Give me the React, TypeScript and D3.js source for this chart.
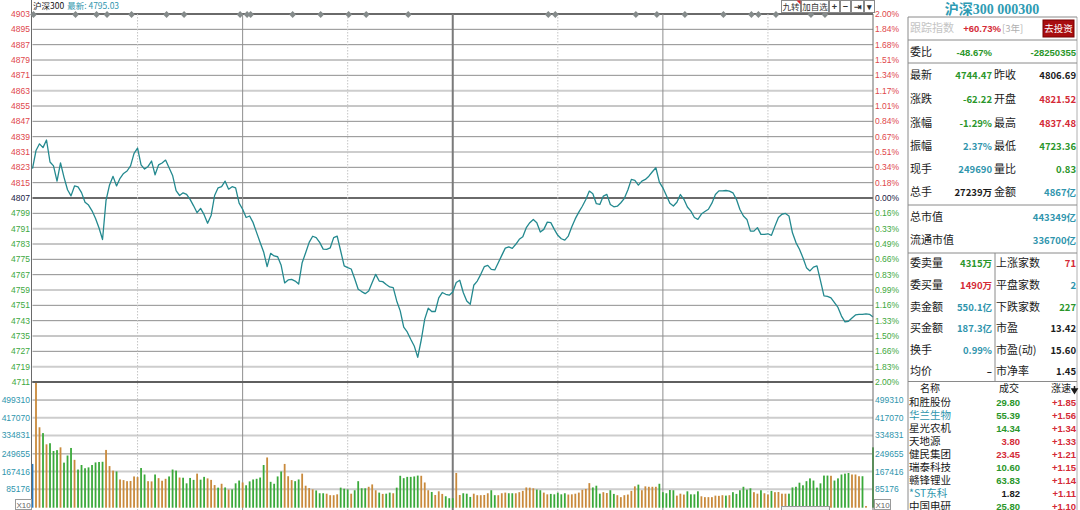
import React from 'react';
import * as d3 from 'd3';

// ---------------- DATA ----------------
const prevClose = 4806.69;

const priceTickLabels = ['4903','4895','4887','4879','4871','4863','4855','4847','4839','4831','4823','4815','4807','4799','4791','4783','4775','4767','4759','4751','4743','4735','4727','4719','4711'];
const pctTickLabels = ['2.00%','1.84%','1.68%','1.51%','1.34%','1.17%','1.01%','0.84%','0.67%','0.51%','0.34%','0.18%','0.00%','0.16%','0.33%','0.49%','0.66%','0.83%','0.99%','1.16%','1.33%','1.50%','1.66%','1.83%','2.00%'];
const volTicks = [85176, 167416, 249655, 334831, 417070, 499310];

const prices = [
  4822.0, 4831.5, 4835.0, 4833.0, 4837.0, 4825.5, 4823.5, 4815.5, 4825.0, 4817.5,
  4811.0, 4807.8, 4813.0, 4812.5, 4809.5, 4804.5, 4803.0, 4800.0, 4796.0, 4791.0,
  4785.0, 4805.5, 4813.5, 4818.0, 4813.0, 4817.0, 4819.5, 4820.8, 4823.5, 4830.0,
  4832.8, 4824.0, 4821.8, 4823.2, 4826.0, 4818.8, 4824.0, 4825.0, 4826.5, 4822.5,
  4818.5, 4810.5, 4808.0, 4809.4, 4808.6, 4806.0, 4802.6, 4799.0, 4801.3, 4798.0,
  4793.5, 4797.5, 4808.0, 4812.0, 4812.6, 4815.5, 4811.3, 4812.6, 4812.0, 4804.0,
  4800.8, 4796.5, 4797.3, 4793.8, 4788.6, 4783.4, 4778.5, 4770.8, 4777.8, 4776.4,
  4776.0, 4771.5, 4762.3, 4763.9, 4764.2, 4763.3, 4761.7, 4772.9, 4778.1, 4783.5,
  4786.7, 4786.0, 4783.5, 4780.0, 4779.9, 4780.6, 4786.0, 4786.8, 4779.0, 4771.2,
  4770.3, 4769.6, 4764.5, 4759.0, 4757.8, 4756.7, 4758.1, 4762.5, 4766.8, 4763.3,
  4763.0, 4761.5, 4760.2, 4759.9, 4752.9, 4747.7, 4739.2, 4736.7, 4732.9, 4729.4,
  4723.4, 4732.5, 4743.4, 4749.1, 4747.4, 4747.4, 4754.5, 4757.3, 4756.4, 4755.9,
  4757.6, 4762.5, 4763.7, 4757.3, 4752.9, 4751.2, 4761.1, 4763.3, 4766.8, 4770.8,
  4771.5, 4769.4, 4769.1, 4772.9, 4776.7, 4780.5, 4781.1, 4780.4, 4782.5, 4785.1,
  4786.4, 4791.2, 4793.8, 4795.5, 4793.8, 4788.9, 4790.3, 4794.1, 4793.8, 4790.3,
  4787.2, 4785.4, 4784.7, 4786.8, 4791.7, 4795.9, 4799.3, 4802.4, 4805.9, 4810.3,
  4808.9, 4803.7, 4803.3, 4807.7, 4808.6, 4803.3, 4802.1, 4802.4, 4804.2, 4806.5,
  4810.9, 4816.4, 4815.9, 4813.4, 4815.5, 4816.4, 4818.1, 4820.4, 4822.5, 4815.0,
  4812.0, 4808.0, 4804.0, 4802.5, 4804.5, 4808.5, 4806.0, 4802.0, 4799.8, 4796.5,
  4795.5, 4798.3, 4799.6, 4800.8, 4804.0, 4808.5, 4810.4, 4810.4, 4810.6, 4810.3,
  4809.4, 4806.0, 4800.7, 4797.3, 4795.5, 4789.4, 4789.4, 4791.2, 4787.7, 4787.7,
  4788.0, 4787.2, 4792.0, 4796.5, 4798.2, 4798.6, 4797.3, 4788.5, 4783.4, 4779.9,
  4775.5, 4770.3, 4768.6, 4770.6, 4771.2, 4763.5, 4755.5, 4755.3, 4754.5, 4752.0,
  4749.5, 4745.0, 4742.0, 4742.3, 4744.0, 4745.6, 4745.9, 4745.9, 4746.2, 4745.9, 4744.5,
];

const volumes = [
  203000, 580000, 373000, 346000, 294000, 299000, 263000, 267000, 280000, 209000,
  242000, 277000, 222000, 177000, 198000, 183000, 187000, 198000, 210000, 212000,
  213000, 268000, 193000, 172000, 168000, 131000, 128000, 123000, 124000, 145000,
  142000, 184000, 154000, 123000, 122000, 154000, 137000, 125000, 134000, 145000,
  177000, 172000, 140000, 139000, 113000, 138000, 129000, 158000, 130000, 143000,
  136000, 129000, 105000, 93000, 111000, 94000, 84000, 85000, 113000, 126000,
  117000, 104000, 122000, 131000, 134000, 140000, 198000, 233000, 120000, 111000,
  145000, 168000, 203000, 146000, 128000, 123000, 131000, 158000, 102000, 91000,
  85000, 80000, 67000, 67000, 65000, 58000, 58000, 62000, 93000, 88000,
  85000, 65000, 81000, 123000, 90000, 90000, 97000, 108000, 81000, 70000,
  64000, 65000, 70000, 67000, 93000, 148000, 137000, 143000, 143000, 145000,
  149000, 148000, 117000, 81000, 73000, 59000, 76000, 64000, 53000, 44000,
  44000, 161000, 59000, 67000, 65000, 50000, 65000, 58000, 58000, 59000,
  67000, 81000, 58000, 58000, 67000, 70000, 67000, 67000, 67000, 72000,
  78000, 94000, 93000, 90000, 84000, 81000, 70000, 62000, 64000, 62000,
  70000, 62000, 67000, 61000, 62000, 65000, 70000, 83000, 87000, 114000,
  94000, 102000, 65000, 72000, 68000, 81000, 64000, 58000, 49000, 58000,
  61000, 78000, 99000, 107000, 81000, 99000, 97000, 97000, 97000, 111000,
  72000, 67000, 82000, 81000, 56000, 65000, 61000, 76000, 62000, 62000,
  76000, 53000, 49000, 49000, 49000, 56000, 55000, 58000, 56000, 58000,
  72000, 64000, 81000, 97000, 84000, 90000, 72000, 65000, 81000, 67000,
  61000, 78000, 72000, 73000, 65000, 65000, 65000, 94000, 97000, 116000,
  104000, 123000, 136000, 126000, 93000, 113000, 149000, 149000, 148000, 126000,
  136000, 154000, 158000, 161000, 154000, 154000, 146000, 146000, 8000, 0, 280000,
];

// b = opening bar, u = up minute, d = down minute
const volumeDir =
  'buududddud' + 'dduddddddd' + 'duuuduuuuu' + 'udduuduuud' + 'dduddddudd' +
  'uuudududdd' + 'uddddddudd' + 'dduuudduuu' + 'uddduuuudd' + 'dudddduuud' +
  'uddudddddd' + 'duuuduuudd' + 'duuddduuuu' + 'udduuudduu' + 'uuuudduudd' +
  'ddduuuuuuu' + 'ddduudduuu' + 'uuuduuuuud' + 'dddduuuddd' + 'duuuuuuudu' +
  'dddddduudu' + 'uduuuudddd' + 'ddddddddud' + 'dddduuuduud';

const markerMinutes = [0, 12, 18, 21, 28, 38, 43, 59, 61, 62, 74, 82, 90, 95, 107, 147, 149, 172, 178, 186, 197, 205, 207, 212, 222, 226];

const toolbarItems = ['九转', '加自选', '+', '−', '⇥', '▾'];

const quoteLabelsL = ['最新', '涨跌', '涨幅', '振幅', '现手', '总手'];
const quoteValuesL = ['4744.47', '-62.22', '-1.29%', '2.37%', '249690', '27239万'];
const quoteLabelsR = ['昨收', '开盘', '最高', '最低', '量比', '金额'];
const quoteValuesR = ['4806.69', '4821.52', '4837.48', '4723.36', '0.83', '4867亿'];

const capLabels = ['总市值', '流通市值'];
const capValues = ['443349亿', '336700亿'];

const orderLabelsL = ['委卖量', '委买量', '卖金额', '买金额', '换手', '均价'];
const orderValuesL = ['4315万', '1490万', '550.1亿', '187.3亿', '0.99%', '–'];
const orderLabelsR = ['上涨家数', '平盘家数', '下跌家数', '市盈', '市盈(动)', '市净率'];
const orderValuesR = ['71', '2', '227', '13.42', '15.60', '1.45'];

const listNames = ['和胜股份', '华兰生物', '星光农机', '天地源', '健民集团', '瑞泰科技', '赣锋锂业', '*ST东科', '中国电研'];
const listPrices = ['29.80', '55.39', '14.34', '3.80', '23.45', '10.60', '63.83', '1.82', '25.80'];
const listSpeeds = ['+1.85', '+1.56', '+1.34', '+1.33', '+1.21', '+1.15', '+1.14', '+1.11', '+1.10'];

// ---------------- STYLE ----------------
const RED = '#e0474c';
const GREEN = '#3ea83e';
const TEAL = '#2f95ad';
const DARK = '#1a1a1a';
const VRED = '#d42a36';
const VGREEN = '#2a962a';
const NUM = "'Liberation Sans', Arial, sans-serif";
const CJK = "'Noto Sans CJK SC', 'Liberation Sans', sans-serif";

const qColL = [VGREEN, VGREEN, VGREEN, TEAL, TEAL, DARK];
const qColR = [DARK, VRED, VRED, VGREEN, VGREEN, TEAL];
const oColL = [VGREEN, VRED, TEAL, TEAL, TEAL, DARK];
const oColR = [VRED, TEAL, VGREEN, DARK, DARK, DARK];
const nameCol = [DARK, TEAL, DARK, DARK, DARK, DARK, DARK, TEAL, DARK];
const priceCol = [VGREEN, VGREEN, VGREEN, VRED, VRED, VGREEN, VGREEN, DARK, VGREEN];
const lightGrid = new Set([5, 9, 14, 18, 23]);
const lightVol = new Set([85176, 167416, 334831, 417070]);

export default function App() {
  const plotL = 32.5;
  const plotR = 873;
  const top = 14;
  const mid = 382;
  const volBot = 507.7;

  const x = d3.scaleLinear().domain([0, 240]).range([plotL, plotR]);
  const y = d3.scaleLinear().domain([prevClose * 0.98, prevClose * 1.02]).range([mid, top]);
  const yv = d3.scaleLinear().domain([0, 583000]).range([volBot, mid]);
  const gridY = d3.scaleLinear().domain([0, priceTickLabels.length - 1]).range([top, mid]);
  const line = d3.line<number>().x((_, i) => x(i)).y((d) => y(d)).curve(d3.curveLinear);

  const barColor = (i: number) => {
    const c = volumeDir[i];
    if (c === 'b') return '#2b7cc0';
    if (c === 'u') return '#c98a3c';
    if (c === 'd') return '#3aa93a';
    return i > 0 && prices[i] >= prices[i - 1] ? '#c98a3c' : '#3aa93a';
  };

  const vLines = [30, 60, 90, 120, 150, 180, 210];

  const px = 908; // panel left
  const pr = 1077; // panel right
  const rowsTop = [75, 99, 122.5, 146, 169, 192];
  const orderRows = [262.5, 284.5, 306.5, 328, 350, 371];

  return (
    <svg
      width={1080}
      height={510}
      style={{ position: 'fixed', left: 0, top: 0, background: '#fff' }}
    >
      <rect x={0} y={0} width={1080} height={510} fill="#fff" />

      {/* price gridlines */}
      {priceTickLabels.map((_, k) => {
        const gy = gridY(k);
        const isZero = k === 12;
        const isEdge = k === 0 || k === priceTickLabels.length - 1;
        return (
          <line
            key={'g' + k}
            x1={plotL}
            x2={plotR}
            y1={gy}
            y2={gy}
            stroke={isZero || isEdge ? '#6a6a6a' : lightGrid.has(k) ? '#cdcdcd' : '#8e8e8e'}
            strokeWidth={isZero || isEdge || lightGrid.has(k) ? 2 : 1}
          />
        );
      })}
      {/* volume gridlines */}
      {volTicks.map((v) => (
        <line
          key={'vg' + v}
          x1={plotL}
          x2={plotR}
          y1={yv(v)}
          y2={yv(v)}
          stroke={lightVol.has(v) ? '#cdcdcd' : '#8e8e8e'}
          strokeWidth={lightVol.has(v) ? 2 : 1}
        />
      ))}
      {/* vertical gridlines */}
      {vLines.map((m) => {
        const solid = m === 60 || m === 180;
        const center = m === 120;
        return (
          <line
            key={'v' + m}
            x1={x(m)}
            x2={x(m)}
            y1={top}
            y2={510}
            stroke={center ? '#7a7a7a' : solid ? '#8e8e8e' : '#c4c4c4'}
            strokeWidth={center ? 2 : 1}
            strokeDasharray={center || solid ? undefined : '1.5,1.5'}
          />
        );
      })}

      {/* volume bars */}
      {volumes.map((v, i) => {
        const by = yv(v);
        return (
          <rect
            key={'b' + i}
            x={x(i) - 0.9}
            y={by}
            width={1.8}
            height={Math.max(0, volBot - by)}
            fill={barColor(i)}
          />
        );
      })}

      {/* price line */}
      <path d={line(prices) || ''} fill="none" stroke="#23898f" strokeWidth={1.3} strokeLinejoin="round" />

      {/* borders */}
      <line x1={31.5} x2={31.5} y1={0} y2={510} stroke="#6a6a6a" strokeWidth={1} />
      <line x1={plotR} x2={plotR} y1={top} y2={510} stroke="#6a6a6a" strokeWidth={1} />
      <line x1={plotL} x2={plotR} y1={mid} y2={mid} stroke="#5f5f5f" strokeWidth={2} />

      {/* event markers */}
      {markerMinutes.map((m, k) => {
        const cx = x(m) + 1;
        const cy = 14.5;
        return (
          <path
            key={'mk' + k}
            d={`M${cx},${cy - 3.6}L${cx + 3.4},${cy}L${cx},${cy + 3.6}L${cx - 3.4},${cy}Z`}
            fill="#858b8b"
          />
        );
      })}

      {/* left price axis labels */}
      {priceTickLabels.map((t, k) => (
        <text
          key={'lt' + k}
          x={30}
          y={gridY(k)}
          dy="0.35em"
          textAnchor="end"
          fontFamily={NUM}
          fontSize={8.5}
          fill={k < 12 ? RED : k === 12 ? '#222244' : GREEN}
        >
          {t}
        </text>
      ))}
      {/* right pct axis labels */}
      {pctTickLabels.map((t, k) => (
        <text
          key={'rt' + k}
          x={875}
          y={gridY(k)}
          dy="0.35em"
          textAnchor="start"
          fontFamily={NUM}
          fontSize={8.5}
          fill={k < 12 ? RED : k === 12 ? '#222244' : GREEN}
        >
          {t}
        </text>
      ))}
      {/* volume axis labels */}
      {volTicks.map((v) => (
        <g key={'vl' + v}>
          <text x={30} y={yv(v)} dy="0.35em" textAnchor="end" fontFamily={NUM} fontSize={8.5} fill={TEAL}>
            {v}
          </text>
          <text x={875} y={yv(v)} dy="0.35em" textAnchor="start" fontFamily={NUM} fontSize={8.5} fill={TEAL}>
            {v}
          </text>
        </g>
      ))}
      {/* X10 boxes */}
      {[15, 874].map((bx) => (
        <g key={'x10' + bx}>
          <rect x={bx + 0.5} y={499.5} width={16} height={10} fill="#fff" stroke="#9a9a9a" />
          <text x={bx + 8.5} y={507.5} textAnchor="middle" fontFamily={NUM} fontSize={8} fill="#666">
            X10
          </text>
        </g>
      ))}
      <rect x={781.5} y={506.5} width={48} height={5} fill="#f2f2f2" stroke="#9a9a9a" />

      {/* header */}
      <text x={33} y={9} fontFamily={CJK} fontSize={8.5} fill="#111">
        沪深300
        <tspan fill={TEAL} dx={3}>最新: 4795.03</tspan>
      </text>

      {/* toolbar */}
      {(() => {
        const widths = [19, 27, 10, 10, 12, 10];
        let cx = 781.5;
        return toolbarItems.map((t, k) => {
          const bx = cx;
          cx += widths[k] + 1;
          return (
            <g key={'tb' + k}>
              <rect x={bx} y={0.5} width={widths[k]} height={12} fill="#fff" stroke="#8a8a8a" />
              <text
                x={bx + widths[k] / 2}
                y={10}
                textAnchor="middle"
                fontFamily={CJK}
                fontSize={k < 2 ? 8.5 : 9}
                fontWeight={k >= 2 ? 'bold' : 'normal'}
                fill="#333"
              >
                {t}
              </text>
              {k === 0 && <path d={`M${bx + 15},0.5L${bx + 19},0.5L${bx + 19},4.5Z`} fill="#e02020" />}
            </g>
          );
        });
      })()}

      {/* ---------- right panel ---------- */}
      <text x={992} y={14} textAnchor="middle" fontFamily="'Liberation Serif', 'Noto Sans CJK SC', serif" fontWeight="bold" fontSize={14} fill="#2e9bb3">
        沪深300 000300
      </text>
      <line x1={px} x2={px} y1={17} y2={510} stroke="#8a8a8a" />
      <line x1={pr} x2={pr} y1={17} y2={510} stroke="#b0b0b0" />
      {[17, 40, 63, 205, 253, 381.5].map((ly) => (
        <line key={'pl' + ly} x1={px} x2={pr} y1={ly} y2={ly} stroke="#8a8a8a" />
      ))}
      <line x1={995} x2={995} y1={253} y2={381.5} stroke="#8a8a8a" />

      {/* 跟踪指数 row */}
      <text x={910} y={32} fontFamily={CJK} fontSize={11} fill="#c4c4c4">跟踪指数</text>
      <text x={1001} y={32} textAnchor="end" fontFamily={NUM} fontSize={9.5} fontWeight="bold" fill={VRED}>+60.73%</text>
      <text x={1002} y={32} fontFamily={CJK} fontSize={9.5} fill="#b0b0b0">[3年]</text>
      <rect x={1043} y={20} width={31} height={17} fill="#a80d10" stroke="#700" />
      <text x={1058.5} y={32} textAnchor="middle" fontFamily={CJK} fontSize={9.5} fill="#fff">去投资</text>

      {/* 委比 row */}
      <text x={910} y={55.5} fontFamily={CJK} fontSize={11} fill={DARK}>委比</text>
      <text x={992} y={55.5} textAnchor="end" fontFamily={NUM} fontSize={9.5} fontWeight="bold" fill={VGREEN}>-48.67%</text>
      <text x={1076} y={55.5} textAnchor="end" fontFamily={NUM} fontSize={9.5} fontWeight="bold" fill={VGREEN}>-28250355</text>

      {/* quote rows */}
      {quoteLabelsL.map((lab, k) => (
        <g key={'q' + k}>
          <text x={910} y={rowsTop[k] + 4} fontFamily={CJK} fontSize={11} fill={DARK}>{lab}</text>
          <text x={992} y={rowsTop[k] + 4} textAnchor="end" fontFamily={CJK} fontSize={9.5} fontWeight="bold" fill={qColL[k]}>{quoteValuesL[k]}</text>
          <text x={994} y={rowsTop[k] + 4} fontFamily={CJK} fontSize={11} fill={DARK}>{quoteLabelsR[k]}</text>
          <text x={1076} y={rowsTop[k] + 4} textAnchor="end" fontFamily={CJK} fontSize={9.5} fontWeight="bold" fill={qColR[k]}>{quoteValuesR[k]}</text>
        </g>
      ))}

      {/* cap rows */}
      {capLabels.map((lab, k) => (
        <g key={'c' + k}>
          <text x={910} y={[216.5, 239.5][k] + 4} fontFamily={CJK} fontSize={11} fill={DARK}>{lab}</text>
          <text x={1076} y={[216.5, 239.5][k] + 4} textAnchor="end" fontFamily={CJK} fontSize={9.5} fontWeight="bold" fill={TEAL}>{capValues[k]}</text>
        </g>
      ))}

      {/* order rows */}
      {orderLabelsL.map((lab, k) => (
        <g key={'o' + k}>
          <text x={910} y={orderRows[k] + 4} fontFamily={CJK} fontSize={11} fill={DARK}>{lab}</text>
          <text x={992} y={orderRows[k] + 4} textAnchor="end" fontFamily={CJK} fontSize={9.5} fontWeight="bold" fill={oColL[k]}>{orderValuesL[k]}</text>
          <text x={996} y={orderRows[k] + 4} fontFamily={CJK} fontSize={11} fill={DARK}>{orderLabelsR[k]}</text>
          <text x={1076} y={orderRows[k] + 4} textAnchor="end" fontFamily={CJK} fontSize={9.5} fontWeight="bold" fill={oColR[k]}>{orderValuesR[k]}</text>
        </g>
      ))}

      {/* list header */}
      <text x={930} y={392} textAnchor="middle" fontFamily={CJK} fontSize={10} fill={DARK}>名称</text>
      <text x={1009} y={392} textAnchor="middle" fontFamily={CJK} fontSize={10} fill={DARK}>成交</text>
      <text x={1071} y={392} textAnchor="end" fontFamily={CJK} fontSize={10} fill={DARK}>涨速</text>
      <path d="M1074.5,386L1074.5,390M1072,389L1074.5,393L1077,389Z" stroke={DARK} strokeWidth={1.5} fill={DARK} />

      {listNames.map((n, k) => {
        const ry = 401.7 + k * 13 + 4;
        return (
          <g key={'ls' + k}>
            <text x={909} y={ry} fontFamily={CJK} fontSize={10.5} fill={nameCol[k]}>{n}</text>
            <text x={1020} y={ry} textAnchor="end" fontFamily={NUM} fontSize={9.5} fontWeight="bold" fill={priceCol[k]}>{listPrices[k]}</text>
            <text x={1076} y={ry} textAnchor="end" fontFamily={NUM} fontSize={9.5} fontWeight="bold" fill={VRED}>{listSpeeds[k]}</text>
          </g>
        );
      })}
    </svg>
  );
}
